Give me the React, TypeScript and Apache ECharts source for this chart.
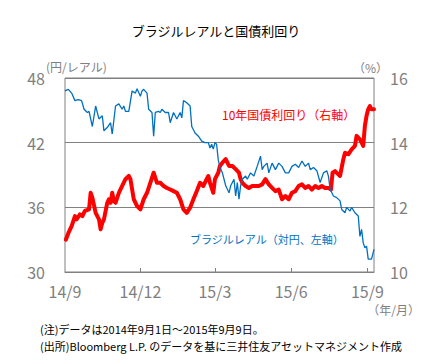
import React, { useEffect, useRef } from "react";
import * as echarts from "echarts";

const blueDates = [
  "2014-09-01","2014-09-05","2014-09-09","2014-09-13","2014-09-17","2014-09-21","2014-09-24","2014-09-28","2014-09-30",
  "2014-10-04","2014-10-08","2014-10-12","2014-10-16","2014-10-18","2014-10-22","2014-10-26","2014-10-28",
  "2014-11-01","2014-11-05","2014-11-09","2014-11-11","2014-11-13","2014-11-17","2014-11-21","2014-11-25","2014-11-27",
  "2014-12-01","2014-12-03","2014-12-05","2014-12-09","2014-12-11","2014-12-15","2014-12-17","2014-12-19","2014-12-23","2014-12-25","2014-12-27","2014-12-31",
  "2015-01-04","2015-01-06","2015-01-10","2015-01-14","2015-01-18","2015-01-20","2015-01-22","2015-01-26","2015-01-30",
  "2015-02-01","2015-02-05","2015-02-09","2015-02-13","2015-02-17","2015-02-21","2015-02-23","2015-02-25","2015-02-27",
  "2015-03-01","2015-03-03","2015-03-05","2015-03-07","2015-03-10","2015-03-14","2015-03-18","2015-03-20","2015-03-24","2015-03-26","2015-03-28","2015-03-30",
  "2015-04-01","2015-04-03","2015-04-07","2015-04-09","2015-04-13","2015-04-17","2015-04-21","2015-04-25","2015-04-27","2015-04-29",
  "2015-05-03","2015-05-05","2015-05-09","2015-05-13","2015-05-17","2015-05-21","2015-05-25","2015-05-29",
  "2015-06-02","2015-06-06","2015-06-10","2015-06-14","2015-06-18","2015-06-22","2015-06-24","2015-06-28",
  "2015-07-02","2015-07-06","2015-07-10","2015-07-14","2015-07-16","2015-07-18","2015-07-22","2015-07-26","2015-07-30",
  "2015-08-01","2015-08-05","2015-08-07","2015-08-11","2015-08-13","2015-08-17","2015-08-21","2015-08-23","2015-08-25","2015-08-27","2015-08-29","2015-08-31",
  "2015-09-02","2015-09-06","2015-09-09"
];
const blueValues = [
  46.8,46.95,46.6,45.9,46.0,45.9,45.1,44.8,44.9,
  43.5,45.4,44.2,44.5,43.1,43.4,43.85,42.8,
  45.4,45.6,45.1,45.4,44.9,44.9,46.8,46.6,47.0,
  46.3,46.8,46.95,46.6,45.1,44.8,42.6,44.8,44.9,44.8,45.1,44.8,
  44.8,43.85,44.8,44.2,44.8,44.3,45.9,45.7,45.4,
  43.5,42.9,42.6,42.15,42.0,42.0,41.5,41.85,41.4,
  42.0,41.85,40.4,39.7,39.2,38.0,37.35,38.0,38.6,37.05,38.3,36.75,
  38.0,38.6,38.9,38.6,39.2,38.9,39.8,40.75,39.5,39.8,
  40.1,39.2,40.1,39.5,40.1,39.8,39.2,39.2,
  39.8,40.0,39.7,40.3,39.8,40.1,39.5,39.7,
  39.4,38.3,39.2,39.4,38.9,37.7,37.05,36.9,36.6,
  35.8,35.5,36.0,35.65,36.0,35.5,35.2,33.3,33.95,32.7,32.25,32.4,
  31.2,31.2,32.1
];

const redDates = [
  "2014-09-02","2014-09-05","2014-09-09","2014-09-13","2014-09-15","2014-09-19","2014-09-22","2014-09-25","2014-09-30",
  "2014-10-02","2014-10-04","2014-10-08","2014-10-12","2014-10-14","2014-10-16","2014-10-18","2014-10-22","2014-10-24","2014-10-26","2014-10-28","2014-10-30",
  "2014-11-01","2014-11-05","2014-11-09","2014-11-13","2014-11-17","2014-11-19","2014-11-23","2014-11-27",
  "2014-12-01","2014-12-05","2014-12-09","2014-12-13","2014-12-17","2014-12-21","2014-12-25","2014-12-29",
  "2015-01-02","2015-01-06","2015-01-10","2015-01-14","2015-01-18","2015-01-22","2015-01-26","2015-01-30",
  "2015-02-03","2015-02-07","2015-02-11","2015-02-15","2015-02-19","2015-02-21","2015-02-23","2015-02-27",
  "2015-03-01","2015-03-05","2015-03-07","2015-03-10","2015-03-14","2015-03-18","2015-03-22","2015-03-26","2015-03-30",
  "2015-04-01","2015-04-03","2015-04-07","2015-04-11","2015-04-15","2015-04-19","2015-04-23","2015-04-27",
  "2015-05-01","2015-05-05","2015-05-09","2015-05-13","2015-05-17","2015-05-21","2015-05-25","2015-05-29",
  "2015-06-02","2015-06-06","2015-06-10","2015-06-14","2015-06-18","2015-06-22","2015-06-26","2015-06-30",
  "2015-07-04","2015-07-08","2015-07-12","2015-07-16","2015-07-19","2015-07-21","2015-07-24","2015-07-28","2015-07-30",
  "2015-08-03","2015-08-05","2015-08-09","2015-08-13","2015-08-17","2015-08-19","2015-08-23","2015-08-27","2015-08-29","2015-08-31",
  "2015-09-02","2015-09-04","2015-09-06","2015-09-09"
];
const redValues = [
  11.0,11.2,11.42,11.73,11.63,11.78,11.73,11.89,11.94,
  12.45,12.3,11.83,11.63,11.32,11.52,11.63,12.14,12.25,12.14,12.45,12.2,
  12.14,12.45,12.66,12.87,12.97,12.87,12.25,12.04,
  11.94,12.25,12.45,12.76,13.07,12.76,12.76,12.66,
  12.6,12.55,12.5,12.45,12.25,11.94,11.83,11.99,
  12.25,12.5,12.76,12.66,12.87,12.97,12.76,12.45,
  12.87,13.07,13.28,13.38,13.49,13.28,13.28,13.18,13.07,
  12.87,12.76,12.66,12.6,12.66,12.66,12.66,12.71,
  12.87,12.71,12.6,12.5,12.55,12.25,12.35,12.25,
  12.45,12.5,12.66,12.71,12.6,12.66,12.55,12.66,
  12.6,12.66,12.6,12.6,12.55,13.07,13.12,13.02,12.97,
  13.49,13.69,13.64,13.79,13.9,14.21,14.1,13.9,14.52,14.83,
  15.03,15.13,15.03,15.03
];

const xStart = "2014-09-01";
const xEnd = "2015-09-09";
const xTickDates = ["2014-09-01", "2014-12-01", "2015-03-01", "2015-06-01", "2015-09-01"];
const xTickLabels = ["14/9", "14/12", "15/3", "15/6", "15/9"];

const titleText = "ブラジルレアルと国債利回り";
const leftAxisName = "(円/レアル)";
const rightAxisName = "（%）";
const xAxisUnit = "（年/月）";
const redLabel = "10年国債利回り（右軸）";
const blueLabel = "ブラジルレアル（対円、左軸）";
const note1 = "(注)データは2014年9月1日～2015年9月9日。";
const note2 = "(出所)Bloomberg L.P. のデータを基に三井住友アセットマネジメント作成";

const ts = (s: string) => {
  const [y, m, d] = s.split("-").map(Number);
  return Date.UTC(y, m - 1, d);
};

const FONT = "'Noto Sans CJK JP', 'Noto Sans', sans-serif";
const GRAY = "#7f7f7f";
const BLUE = "#0070c0";
const RED = "#ff0000";

export default function App() {
  const ref = useRef<HTMLDivElement>(null);
  useEffect(() => {
    if (!ref.current) return;
    const chart = echarts.init(ref.current, undefined, { renderer: "svg" });
    const tickTs = xTickDates.map(ts);
    chart.setOption({
      animation: false,
      backgroundColor: "#ffffff",
      textStyle: { fontFamily: FONT },
      grid: {
        left: 65,
        top: 78,
        width: 309,
        height: 194,
        show: true,
        borderColor: "#808080",
        borderWidth: 1,
        containLabel: false,
        outerBoundsMode: "none",
      },
      xAxis: {
        type: "value",
        min: ts(xStart),
        max: ts(xEnd),
        axisLine: { show: true, lineStyle: { color: "#808080", width: 1 } },
        axisTick: {
          show: true,
          inside: true,
          length: 4,
          customValues: tickTs.slice(1),
          lineStyle: { color: "#808080" },
        },
        axisLabel: {
          customValues: tickTs,
          formatter: (v: number) => {
            const i = tickTs.indexOf(v);
            return i >= 0 ? xTickLabels[i] : "";
          },
          color: GRAY,
          fontSize: 16,
          fontFamily: FONT,
          margin: 11,
        },
        splitLine: { show: false },
      },
      yAxis: [
        {
          type: "value",
          min: 30,
          max: 48,
          interval: 6,
          position: "left",
          axisLine: { show: false },
          axisTick: { show: false },
          axisLabel: { color: GRAY, fontSize: 16, fontFamily: FONT, margin: 20 },
          splitLine: { show: true, lineStyle: { color: "#808080", width: 1 } },
        },
        {
          type: "value",
          min: 10,
          max: 16,
          interval: 2,
          position: "right",
          axisLine: { show: false },
          axisTick: { show: false },
          axisLabel: { color: GRAY, fontSize: 16, fontFamily: FONT, margin: 16 },
          splitLine: { show: false },
        },
      ],
      series: [
        {
          type: "line",
          yAxisIndex: 1,
          data: redDates.map((d, i) => [ts(d), redValues[i]]),
          showSymbol: false,
          lineStyle: { color: RED, width: 4, join: "round", cap: "round" },
          z: 2,
        },
        {
          type: "line",
          yAxisIndex: 0,
          data: blueDates.map((d, i) => [ts(d), blueValues[i]]),
          showSymbol: false,
          lineStyle: { color: BLUE, width: 1.3 },
          z: 3,
        },
      ],
      graphic: [
        {
          type: "text",
          x: 216,
          y: 30,
          style: { text: titleText, fill: "#000", font: `13px ${FONT}`, textAlign: "center", textVerticalAlign: "middle" },
        },
        {
          type: "text",
          x: 46,
          y: 66,
          style: { text: leftAxisName, fill: GRAY, font: `12px ${FONT}`, lineHeight: 12, textAlign: "left", textVerticalAlign: "middle" },
        },
        {
          type: "text",
          x: 388,
          y: 67,
          style: { text: rightAxisName, fill: GRAY, font: `12px ${FONT}`, lineHeight: 12, textAlign: "right", textVerticalAlign: "middle" },
        },
        {
          type: "text",
          x: 222,
          y: 114,
          style: { text: redLabel, fill: RED, font: `12px ${FONT}`, textAlign: "left", textVerticalAlign: "middle" },
        },
        {
          type: "text",
          x: 190,
          y: 239,
          style: { text: blueLabel, fill: BLUE, font: `11px ${FONT}`, textAlign: "left", textVerticalAlign: "middle" },
        },
        {
          type: "text",
          x: 420,
          y: 309,
          style: { text: xAxisUnit, fill: GRAY, font: `12px ${FONT}`, textAlign: "right", textVerticalAlign: "middle" },
        },
        {
          type: "text",
          x: 40,
          y: 329,
          style: { text: note1, fill: "#000", font: `11px ${FONT}`, lineHeight: 13, textAlign: "left", textVerticalAlign: "middle" },
        },
        {
          type: "text",
          x: 40,
          y: 345.5,
          style: { text: note2, fill: "#000", font: `11px ${FONT}`, lineHeight: 13, textAlign: "left", textVerticalAlign: "middle" },
        },
      ],
    });
    return () => chart.dispose();
  }, []);
  return (
    <div
      ref={ref}
      style={{ position: "absolute", left: 0, top: 0, width: 446, height: 364, background: "#fff" }}
    />
  );
}
